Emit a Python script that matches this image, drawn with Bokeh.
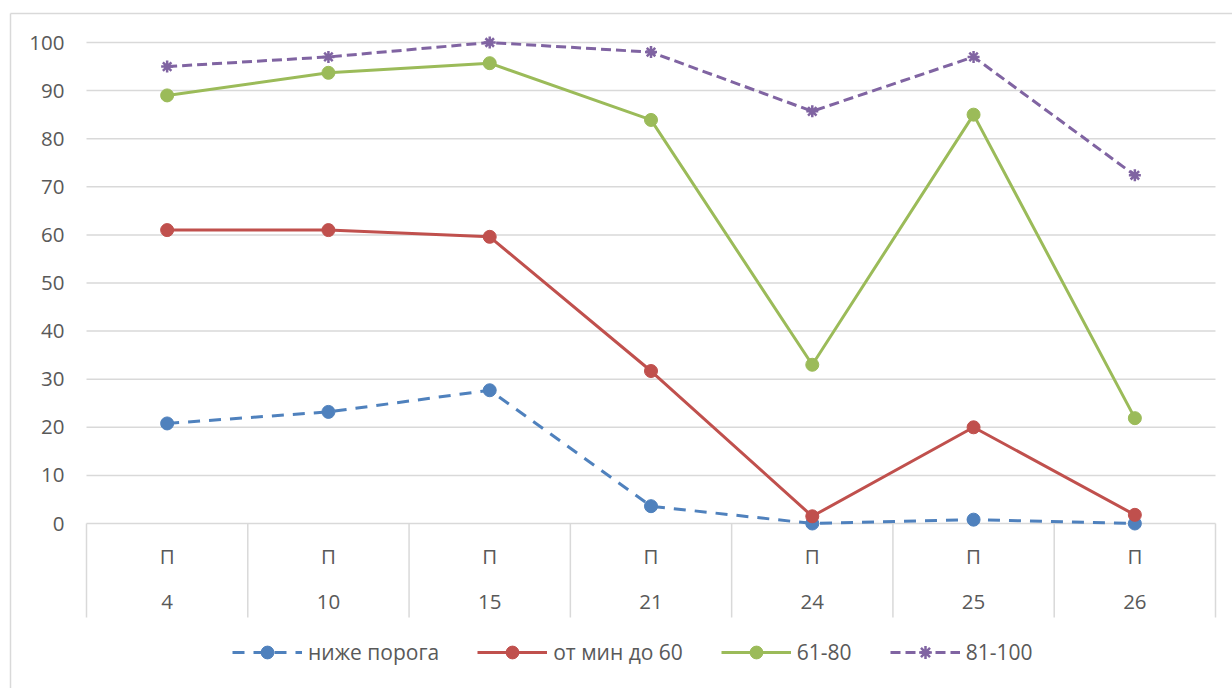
from bokeh.plotting import figure
from bokeh.models import Range1d, Legend, LegendItem
from bokeh.embed import file_html
from bokeh.resources import INLINE
from bokeh.core.properties import value

# --- data ---------------------------------------------------------------
groups = ["4", "10", "15", "21", "24", "25", "26"]
group_prefix = "П"
series_names = ["ниже порога", "от мин до 60", "61-80", "81-100"]
below_threshold = [20.8, 23.2, 27.7, 3.6, 0.0, 0.8, 0.0]
min_to_60 = [61.0, 61.0, 59.6, 31.7, 1.5, 20.0, 1.8]
from_61_to_80 = [89.0, 93.7, 95.7, 83.9, 33.0, 85.0, 21.9]
from_81_to_100 = [95.0, 97.0, 100.0, 98.0, 85.7, 97.0, 72.4]
y_ticks = [0, 10, 20, 30, 40, 50, 60, 70, 80, 90, 100]

# --- page geometry (pixels) --------------------------------------------
W, H = 1232, 688
PLOT_L, PLOT_R = 86, 1215      # left / right edge of the plotting area
PLOT_T, PLOT_B = 42, 523       # pixel rows of y = 100 and y = 0
n = len(groups)
ux = (PLOT_R - PLOT_L) / n
uy = (PLOT_B - PLOT_T) / 100.0
x0, x1 = -PLOT_L / ux, n + (W - PLOT_R) / ux
y0, y1 = -(H - PLOT_B) / uy, 100 + PLOT_T / uy


def px_x(px):
    return x0 + px / ux


def px_y(py):
    return y1 - py / uy


FONT = "Open Sans"
TEXT = "#595959"
GRID = "#d9d9d9"
AXIS_FS = "20.5px"
LEGEND_FS = "21px"

p = figure(width=W, height=H, x_range=Range1d(x0, x1), y_range=Range1d(y0, y1),
           toolbar_location=None, output_backend="svg",
           x_axis_location=None, y_axis_location=None, min_border=0)
p.grid.visible = False
p.outline_line_color = None
p.background_fill_color = "white"
p.border_fill_color = "white"

# chart-area border (left and top edges)
bx, by = px_x(10), px_y(13)
p.segment(x0=[bx, bx], y0=[by, by], x1=[bx, x1], y1=[y0, by],
          line_color=GRID, line_width=1.5)

# horizontal gridlines
p.segment(x0=[0] * len(y_ticks), y0=y_ticks, x1=[n] * len(y_ticks), y1=y_ticks,
          line_color=GRID, line_width=1.5)

# y tick labels
p.text(x=[px_x(64)] * len(y_ticks), y=y_ticks, text=[str(t) for t in y_ticks],
       text_font=value(FONT), text_font_size=AXIS_FS, text_color=TEXT,
       text_align="right", text_baseline="middle")

# category separators below the axis
sep_bottom = px_y(617)
p.segment(x0=list(range(n + 1)), y0=[0] * (n + 1), x1=list(range(n + 1)),
          y1=[sep_bottom] * (n + 1), line_color=GRID, line_width=1.5)

xs = [i + 0.5 for i in range(n)]
p.text(x=xs, y=[px_y(555)] * n, text=[group_prefix] * n,
       text_font=value(FONT), text_font_size=AXIS_FS, text_color=TEXT,
       text_align="center", text_baseline="middle")
p.text(x=xs, y=[px_y(601)] * n, text=groups,
       text_font=value(FONT), text_font_size=AXIS_FS, text_color=TEXT,
       text_align="center", text_baseline="middle")

# --- series ------------------------------------------------------------
styles = [
    (below_threshold, "#4f81bd", "12 9", "circle", 13),
    (min_to_60, "#c0504d", "solid", "circle", 13),
    (from_61_to_80, "#9bbb59", "solid", "circle", 13),
    (from_81_to_100, "#8064a2", "10 5", "asterisk", 12),
]
items = []
for name, (vals, color, dash, marker, size) in zip(series_names, styles):
    ln = p.line(xs, vals, line_color=color, line_width=3, line_dash=dash)
    if marker == "asterisk":
        mk = p.scatter(xs, vals, marker=marker, size=size, line_color=color,
                       line_width=2.5)
    else:
        mk = p.scatter(xs, vals, marker=marker, size=size, fill_color=color,
                       line_color=color)
    items.append(LegendItem(label=name, renderers=[ln, mk]))

legend = Legend(items=items, orientation="horizontal", location=(232, 20),
                glyph_width=70, glyph_height=32, label_height=20,
                label_standoff=6, spacing=38, padding=0, margin=0,
                border_line_color=None, background_fill_alpha=0,
                label_text_font=FONT, label_text_font_size=LEGEND_FS,
                label_text_color=TEXT)
p.add_layout(legend, "center")

open("out.html", "w").write(file_html(p, INLINE))
